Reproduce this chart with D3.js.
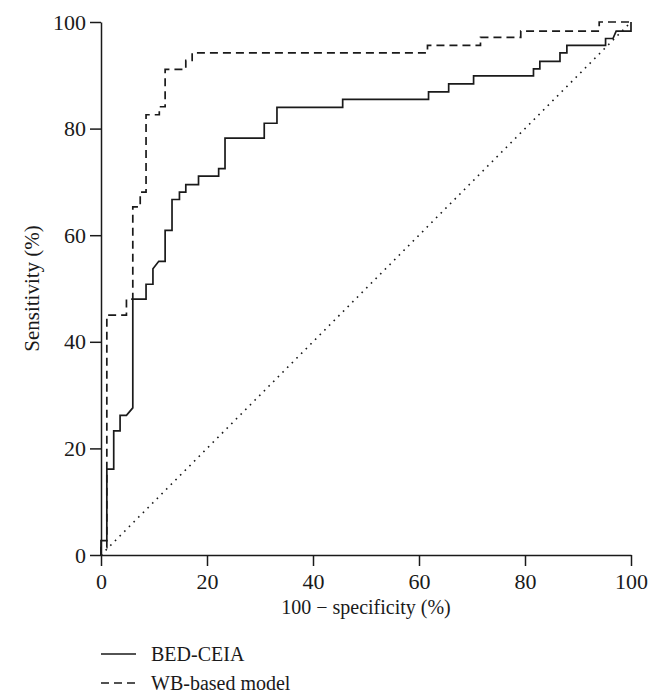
<!DOCTYPE html>
<html>
<head>
<meta charset="utf-8">
<script src="https://cdn.jsdelivr.net/npm/d3@7"></script>
<style>
  body { margin: 0; background: #fff; }
  text { font-family: "Liberation Serif", "DejaVu Serif", serif; fill: #1a1a1a; }
</style>
</head>
<body>
<svg id="chart" width="660" height="700"></svg>
<script>
// ---- data ----
const xTicks = [0, 20, 40, 60, 80, 100];
const yTicks = [0, 20, 40, 60, 80, 100];
const xLabel = "100 \u2212 specificity (%)";
const yLabel = "Sensitivity (%)";
const seriesNames = ["BED-CEIA", "WB-based model"];

// BED-CEIA ROC path: 100 - specificity (%) and sensitivity (%)
const bedFpr = [0, 0, 1.1, 1.1, 2.4, 2.4, 3.6, 3.6, 4.8, 6.0, 6.0, 8.5, 8.5, 9.8, 9.8, 10.9, 12.1, 12.1, 13.4, 13.4,
  14.8, 14.8, 16.0, 16.0, 18.4, 18.4, 22.2, 22.2, 23.4, 23.4, 30.8, 30.8, 33.2, 33.2, 45.6, 45.6, 61.8, 61.8,
  65.6, 65.6, 70.3, 70.3, 81.6, 81.6, 82.8, 82.8, 86.6, 86.6, 87.9, 87.9, 95.2, 95.2, 96.6, 97.2, 100, 100];
const bedTpr = [0, 2.7, 2.7, 16.1, 16.1, 23.3, 23.3, 26.2, 26.2, 27.6, 48.0, 48.0, 50.8, 50.8, 53.7, 55.1, 55.1, 60.9, 60.9, 66.7,
  66.7, 68.1, 68.1, 69.5, 69.5, 71.1, 71.1, 72.5, 72.5, 78.2, 78.2, 81.0, 81.0, 84.0, 84.0, 85.5, 85.5, 86.9,
  86.9, 88.4, 88.4, 89.9, 89.9, 91.2, 91.2, 92.6, 92.6, 94.2, 94.2, 95.6, 95.6, 96.9, 96.9, 98.3, 98.3, 100];

// WB-based model ROC path
const wbFpr = [0, 0, 1.1, 1.1, 4.8, 4.8, 6.0, 6.0, 7.4, 7.4, 8.5, 8.5, 11.0, 11.0, 12.1, 12.1, 16.0, 16.0, 17.2, 17.2,
  61.6, 61.6, 71.6, 71.6, 79.2, 79.2, 94.0, 94.0, 100];
const wbTpr = [0, 1.4, 1.4, 45.0, 45.0, 48.0, 48.0, 65.3, 65.3, 68.1, 68.1, 82.6, 82.6, 84.1, 84.1, 91.1, 91.1, 92.8, 92.8, 94.2,
  94.2, 95.6, 95.6, 97.1, 97.1, 98.3, 98.3, 100, 100];

// chance line
const chanceFpr = [0, 100];
const chanceTpr = [0, 100];

// ---- drawing ----
const svg = d3.select("#chart");
const ink = "#1a1a1a";

const x = d3.scaleLinear().domain([0, 100]).range([101, 631]);
const y = d3.scaleLinear().domain([0, 100]).range([555, 22]);

const line = d3.line().x(d => x(d[0])).y(d => y(d[1]));
const zip = (a, b) => a.map((v, i) => [v, b[i]]);

// chance diagonal
svg.append("path")
  .attr("d", line(zip(chanceFpr, chanceTpr)))
  .attr("fill", "none").attr("stroke", ink).attr("stroke-width", 1.6)
  .attr("stroke-dasharray", "1.6 5");

// WB-based model (dashed)
svg.append("path")
  .attr("d", line(zip(wbFpr, wbTpr)))
  .attr("fill", "none").attr("stroke", ink).attr("stroke-width", 1.7)
  .attr("stroke-dasharray", "8 5");

// BED-CEIA (solid)
svg.append("path")
  .attr("d", line(zip(bedFpr, bedTpr)))
  .attr("fill", "none").attr("stroke", ink).attr("stroke-width", 1.7);

// axes
const gx = svg.append("g").attr("transform", `translate(0,${y(0)})`)
  .call(d3.axisBottom(x).tickValues(xTicks).tickSize(11).tickSizeOuter(0).tickPadding(7).tickFormat(d3.format("d")));
const gy = svg.append("g").attr("transform", `translate(${x(0)},0)`)
  .call(d3.axisLeft(y).tickValues(yTicks).tickSize(11).tickSizeOuter(0).tickPadding(4).tickFormat(d3.format("d")));
[gx, gy].forEach(g => {
  g.selectAll("path, line").attr("stroke", ink).attr("stroke-width", 1.5);
  g.selectAll("text").attr("font-size", 22).attr("font-family", '"Liberation Serif", serif').attr("fill", ink);
});

// axis titles
svg.append("text").attr("x", (x(0) + x(100)) / 2).attr("y", 614)
  .attr("text-anchor", "middle").attr("font-size", 20).text(xLabel);
svg.append("text").attr("transform", `translate(39,${(y(0) + y(100)) / 2}) rotate(-90)`)
  .attr("text-anchor", "middle").attr("font-size", 21).text(yLabel);

// legend
const legend = svg.append("g");
const legY = [654, 683];
const legDash = [null, "8 5"];
seriesNames.forEach((name, i) => {
  legend.append("line").attr("x1", 101).attr("x2", 136).attr("y1", legY[i]).attr("y2", legY[i])
    .attr("stroke", ink).attr("stroke-width", 1.7).attr("stroke-dasharray", legDash[i]);
  legend.append("text").attr("x", 151).attr("y", legY[i] + 7).attr("font-size", 20).text(name);
});
</script>
</body>
</html>
